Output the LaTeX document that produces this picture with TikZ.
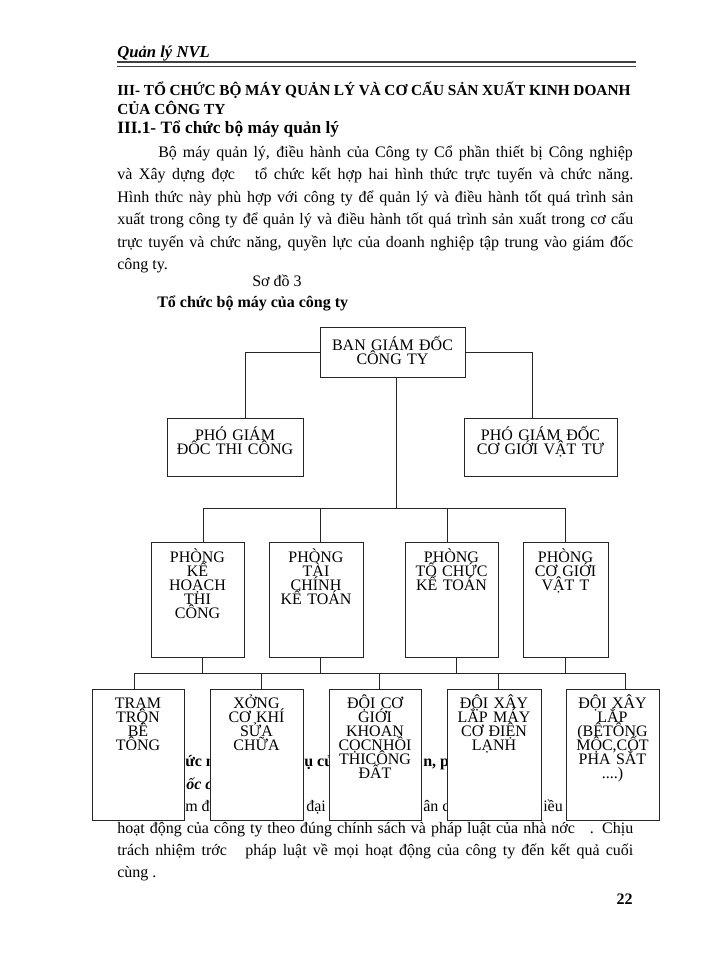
\documentclass[tikz,border=0pt]{standalone}
\usepackage{fontspec}
\setmainfont{Liberation Serif}
\usetikzlibrary{positioning}
\tikzset{orgbox/.style = {draw=black!85, fill=white, line width=0.6pt, inner sep=0}}
\tikzset{orgtext/.style = {font=\fontsize{12}{10.5}\selectfont, text width=110pt, align=center, inner sep=0,
    execute at begin node={\setlength{\baselineskip}{10.5pt}\setlength{\lineskiplimit}{-20pt}\vrule width 0pt height 12pt\relax}}}
\tikzset{link/.style = {draw=black!85, line width=0.6pt}}
\tikzset{body/.style = {font=\fontsize{12}{15}\selectfont, inner sep=0, anchor=base west}}
\tikzset{bodybf/.style = {body, font=\fontsize{12}{15}\selectfont\bfseries}}

\begin{document}
\begin{tikzpicture}[x=0.75pt, y=-0.75pt]
    \fill[white] (0,0) rectangle (700,960);
    \useasboundingbox (0,0) rectangle (700,960);

    % page head
    \node [body, font=\fontsize{12.5}{15}\selectfont\bfseries\itshape] (head) at (117,57) {Quản lý NVL};
    \coordinate (rule-l) at (117,62);
    \coordinate (rule-r) at (636,62);
    \draw [line width=1.6pt, black!75] (rule-l) -- (rule-r);
    \draw [line width=0.5pt, black!75] ([yshift=-3pt]rule-l) -- ([yshift=-3pt]rule-r);

    \node [bodybf, font=\fontsize{11.5}{15}\selectfont\bfseries] (h1) at (117,95) {\makebox[385pt][s]{III- TỔ CHỨC BỘ MÁY QUẢN LÝ VÀ CƠ CẤU SẢN XUẤT KINH DOANH}};
    \node [bodybf, font=\fontsize{11.5}{15}\selectfont\bfseries] (h2) at (117,114) {CỦA CÔNG TY};
    \node [bodybf, font=\fontsize{13}{15}\selectfont\bfseries] (h3) at (117,133) {III.1- Tổ chức bộ máy quản lý};

    \node [body] (p1) at (158,157) {\makebox[356pt][s]{Bộ máy quản lý, điều hành của Công ty Cổ phần thiết bị Công nghiệp}};
    \node [body] (p2) at (117,179) {\makebox[387pt][s]{và Xây dựng đợc \ \ tổ chức kết hợp hai hình thức trực tuyến và chức năng.}};
    \node [body] (p3) at (117,202) {\makebox[387pt][s]{Hình thức này phù hợp với công ty để quản lý và điều hành tốt quá trình sản}};
    \node [body] (p4) at (117,224) {\makebox[387pt][s]{xuất trong công ty để quản lý và điều hành tốt quá trình sản xuất trong cơ cấu}};
    \node [body] (p5) at (117,247) {\makebox[387pt][s]{trực tuyến và chức năng, quyền lực của doanh nghiệp tập trung vào giám đốc}};
    \node [body] (p6) at (117,269) {công ty.};

    \node [body] (sodo) at (252,286) {Sơ đồ 3};
    \node [bodybf] (title) at (157,307) {Tổ chức bộ máy của công ty};

    % text behind the lower boxes
    \node [bodybf] (f1) at (185,766) {ức n};
    \node [bodybf] (f2) at (304,766) {ụ củ};
    \node [bodybf] (f3) at (423,766) {n, p};
    \node [body, font=\fontsize{12}{15}\selectfont\bfseries\itshape] (f4) at (186,789) {ốc c};
    \node [body] (f5) at (185,811) {m đ};
    \node [body] (f6) at (306,811) {đại};
    \node [body] (f7) at (423,811) {ân c};
    \node [body] (f8) at (543,811) {iều};

    \node [body] (q1) at (117,833) {\makebox[387pt][s]{hoạt động của công ty theo đúng chính sách và pháp luật của nhà nớc \ \ . Chịu}};
    \node [body] (q2) at (117,855) {\makebox[387pt][s]{trách nhiệm trớc \ \ pháp luật về mọi hoạt động của công ty đến kết quả cuối}};
    \node [body] (q3) at (117,877) {cùng .};
    \node [bodybf, anchor=base east] (page) at (633,904) {22};

    % top
    \node [orgbox, minimum width=108.75pt, minimum height=37.5pt] (ban) at (392.5,352) {};
    \node [orgtext, below=5.5pt of ban.north] (ban-t) {BAN GIÁM ĐỐC\\CÔNG TY};

    \node [orgbox, minimum width=102pt, minimum height=43.5pt] (pgdtc) at (235,447) {};
    \node [orgtext, below=4.75pt of pgdtc.north] (pgdtc-t) {PHÓ GIÁM\\ĐỐC THI CÔNG};

    \node [orgbox, minimum width=114.75pt, minimum height=43.5pt] (pgdcg) at (540.5,447) {};
    \node [orgtext, below=4.75pt of pgdcg.north] (pgdcg-t) {PHÓ GIÁM ĐỐC\\CƠ GIỚI VẬT TƯ};

    % phong
    \node [orgbox, minimum width=69.75pt, minimum height=86.25pt] (pkh) at (197.5,599.5) {};
    \node [orgtext, below=3.25pt of pkh.north] (pkh-t) {PHÒNG\\KẾ\\HOẠCH\\THI\\CÔNG};

    \node [orgbox, minimum width=70.5pt, minimum height=86.25pt] (ptc) at (316,599.5) {};
    \node [orgtext, below=3.25pt of ptc.north] (ptc-t) {PHÒNG\\TÀI\\CHÍNH\\KẾ TOÁN};

    \node [orgbox, minimum width=69.75pt, minimum height=86.25pt] (ptckt) at (451.5,599.5) {};
    \node [orgtext, below=3.25pt of ptckt.north] (ptckt-t) {PHÒNG\\TỔ CHỨC\\KẾ TOÁN};

    \node [orgbox, minimum width=63.75pt, minimum height=86.25pt] (pcg) at (565.5,599.5) {};
    \node [orgtext, below=3.25pt of pcg.north] (pcg-t) {PHÒNG\\CƠ GIỚI\\VẬT T};

    % doi, xuong
    \node [orgbox, minimum width=69pt, minimum height=98.25pt] (tram) at (138,754.5) {};
    \node [orgtext, below=2.5pt of tram.north] (tram-t) {TRẠM\\TRỘN\\BÊ\\TÔNG};

    \node [orgbox, minimum width=69.75pt, minimum height=98.25pt] (xuong) at (256.5,754.5) {};
    \node [orgtext, below=2.5pt of xuong.north] (xuong-t) {XỞNG\\CƠ KHÍ\\SỬA\\CHỮA};

    \node [orgbox, minimum width=69pt, minimum height=98.25pt] (doicg) at (375,754.5) {};
    \node [orgtext, below=2.5pt of doicg.north] (doicg-t) {ĐỘI CƠ\\GIỚI\\KHOAN\\CỌCNHỒI\\THICÔNG\\ĐẤT};

    \node [orgbox, minimum width=70.5pt, minimum height=98.25pt] (doixl) at (494,754.5) {};
    \node [orgtext, below=2.5pt of doixl.north] (doixl-t) {ĐỘI XÂY\\LẮP MÁY\\CƠ ĐIỆN\\LẠNH};

    \node [orgbox, minimum width=69.75pt, minimum height=98.25pt] (doixd) at (612.5,754.5) {};
    \node [orgtext, below=2.5pt of doixd.north] (doixd-t) {ĐỘI XÂY\\LẮP\\(BÊTÔNG\\MỘC,CỐT\\PHA SẮT\\....)};

    % links
    \coordinate (ltc) at (245,352);
    \coordinate (rcg) at (532,352);
    \coordinate (bus1) at (396,508);
    \coordinate (bus2) at (396,673);
    \draw [link] (ban.west) -- (ltc) -- (ltc |- pgdtc.north);
    \draw [link] (ban.east) -- (rcg) -- (rcg |- pgdcg.north);
    \draw [link] (ban.south -| bus1) -- (bus1);
    \draw [link] ([xshift=4.1pt]pkh.north |- bus1) -- (pcg.north |- bus1);
    \draw [link] ([xshift=4.1pt]pkh.north |- bus1) -- ([xshift=4.1pt]pkh.north);
    \draw [link] ([xshift=3pt]ptc.north |- bus1) -- ([xshift=3pt]ptc.north);
    \draw [link] ([xshift=-3.4pt]ptckt.north |- bus1) -- ([xshift=-3.4pt]ptckt.north);
    \draw [link] (pcg.north |- bus1) -- (pcg.north);

    \draw [link] ([xshift=-3pt]tram.north |- bus2) -- ([xshift=9.4pt]doixd.north |- bus2);
    \draw [link] ([xshift=3.4pt]pkh.south) -- ([xshift=3.4pt]pkh.south |- bus2);
    \draw [link] ([xshift=3pt]ptc.south) -- ([xshift=3pt]ptc.south |- bus2);
    \draw [link] ([xshift=3.4pt]ptckt.south) -- ([xshift=3.4pt]ptckt.south |- bus2);
    \draw [link] (pcg.south) -- (pcg.south |- bus2);
    \draw [link] ([xshift=-3pt]tram.north |- bus2) -- ([xshift=-3pt]tram.north);
    \draw [link] ([xshift=3.4pt]xuong.north |- bus2) -- ([xshift=3.4pt]xuong.north);
    \draw [link] ([xshift=3pt]doicg.north |- bus2) -- ([xshift=3pt]doicg.north);
    \draw [link] ([xshift=3pt]doixl.north |- bus2) -- ([xshift=3pt]doixl.north);
    \draw [link] ([xshift=9.4pt]doixd.north |- bus2) -- ([xshift=9.4pt]doixd.north);
\end{tikzpicture}
\end{document}
